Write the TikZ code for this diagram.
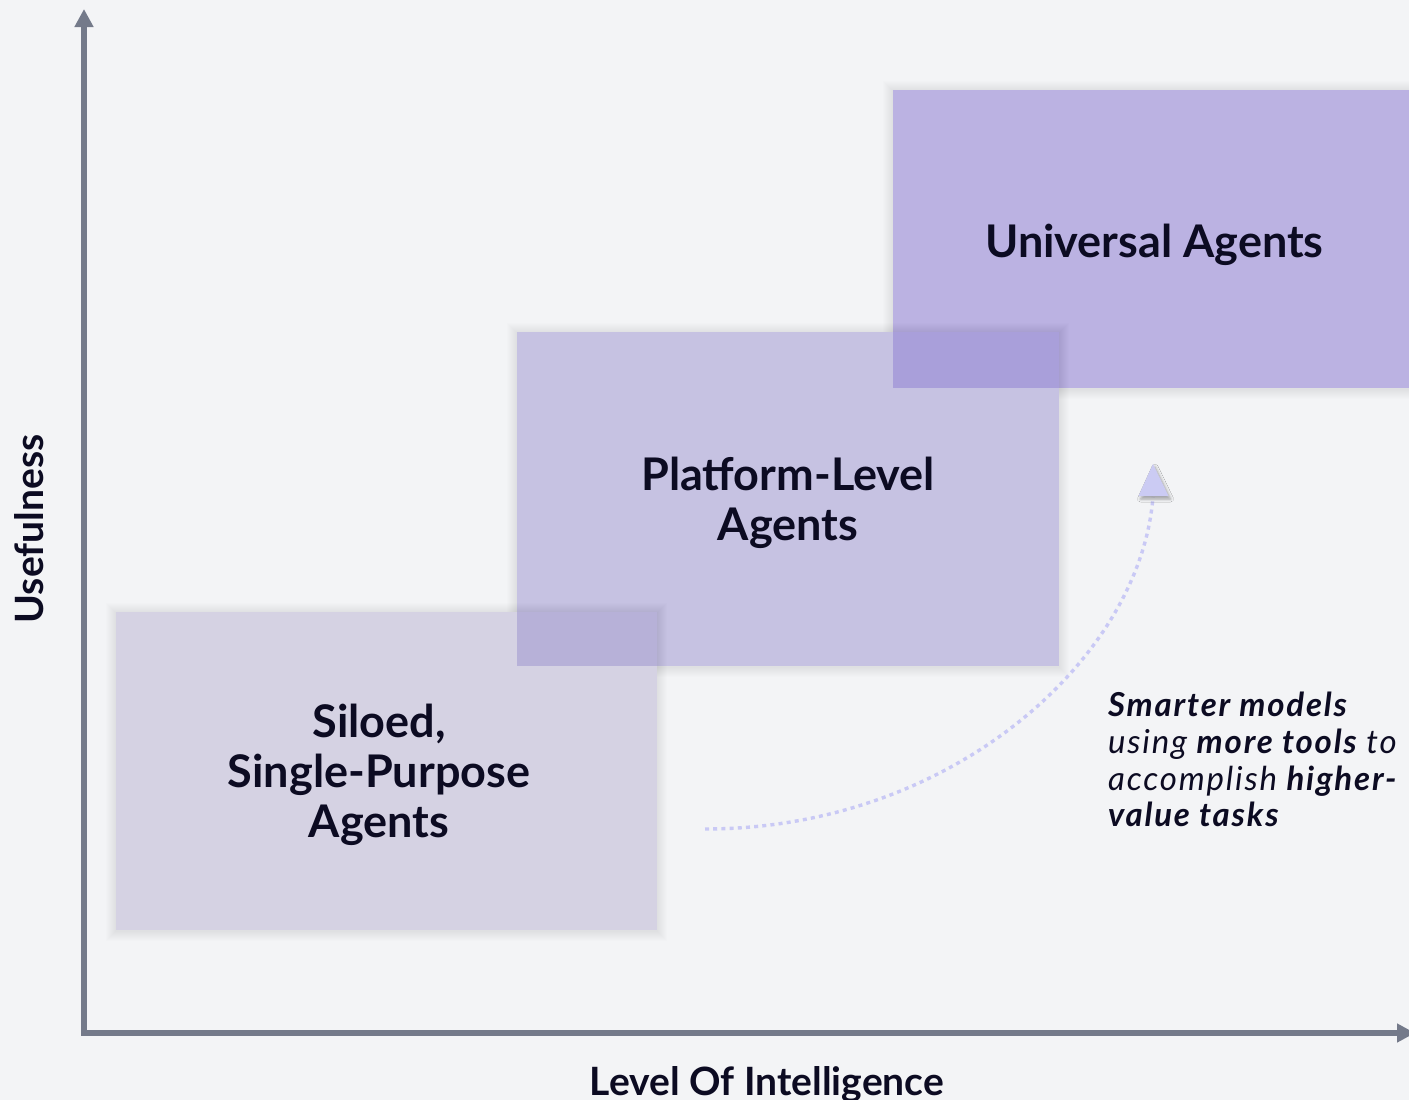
\documentclass[tikz,border=0pt]{standalone}
\usepackage{fontspec}
\setmainfont{Lato}
\usetikzlibrary{arrows.meta,shadows.blur}
\definecolor{bg}{HTML}{F3F4F6}
\definecolor{axisc}{HTML}{747A8A}
\definecolor{ink}{HTML}{0C0B22}
\definecolor{uni}{HTML}{BBB2E2}
\definecolor{plat}{HTML}{C6C2E2}
\definecolor{silo}{HTML}{D5D2E3}
\definecolor{upov}{HTML}{A99FDA}
\definecolor{psov}{HTML}{B7B1D8}
\definecolor{dotc}{HTML}{C9C9F5}
\definecolor{headc}{HTML}{CBCBF3}
\newcommand{\halo}[1]{%
  \foreach \r in {1,...,10}{%
    \fill[black, opacity=0.009] ([shift={(-\r,-\r+1)}]#1.north west) rectangle ([shift={(\r,\r+1)}]#1.south east);
  }%
}
\begin{document}
\begin{tikzpicture}[x=1pt,y=-1pt,
  box/.style={rectangle, draw=none, inner sep=0pt, outer sep=0pt},
  ovl/.style={rectangle, draw=none, inner sep=0pt, outer sep=0pt},
  boxtext/.style={text=ink, align=center, inner sep=0pt, font=\bfseries\fontsize{45}{50}\selectfont},
  axlabel/.style={text=ink, inner sep=0pt, font=\bfseries\fontsize{39}{45}\selectfont},
  axisline/.style={draw=axisc, line width=6pt, line join=miter,
    {Triangle[length=18pt,width=18pt]}-{Triangle[length=18pt,width=18pt]}},
  curvepath/.style={draw=dotc, line width=3.4pt, dash pattern=on 4pt off 4.2pt},
  headtri/.style={fill=headc, blur shadow={shadow xshift=2pt, shadow yshift=-3pt, shadow blur radius=3pt, shadow opacity=35}}
]
\useasboundingbox (0,0) rectangle (1409,1100);
\fill[bg] (0,0) rectangle (1409,1100);

% axes
\coordinate (ytop) at (84,9);
\coordinate (origin) at (84,1033);
\coordinate (xend) at (1415,1033);
\draw[axisline] (ytop) -- (origin) -- (xend);

% boxes (each with a soft halo beneath)
\path node[box, minimum width=522pt, minimum height=298pt] (universal) at (1154,239) {};
\halo{universal}
\fill[uni] (universal.north west) rectangle (universal.south east);

\path node[box, minimum width=542pt, minimum height=334pt] (platform) at (788,499) {};
\halo{platform}
\fill[plat] (platform.north west) rectangle (platform.south east);
\node[ovl, fill=upov, minimum width=166pt, minimum height=56pt] (upover) at (976,360) {};

\path node[box, minimum width=541pt, minimum height=318pt] (siloed) at (386.5,771) {};
\halo{siloed}
\fill[silo] (siloed.north west) rectangle (siloed.south east);
\node[ovl, fill=psov, minimum width=140pt, minimum height=54pt] (psover) at (587,639) {};

% box texts
\node[boxtext, anchor=base] (unitext) at (1154.5,257) {Universal Agents};
\node[boxtext, anchor=base] (plattext) at (788,540) {Platform-Level\\Agents};
\node[boxtext, anchor=base] (silotext) at (379,837) {Siloed,\\Single-Purpose\\Agents};

% axis labels
\node[axlabel, rotate=90, anchor=base] (ylabel) at (43,529) {Usefulness};
\node[axlabel, anchor=base] (xlabel) at (767,1095) {Level Of Intelligence};

% curve with arrowhead
\coordinate (cstart) at (705,829);
\coordinate (apex) at (1153,464);
\coordinate (cend) at (1153,497);
\draw[curvepath] (cstart) .. controls (950,829) and (1140,660) .. (cend);
\path[headtri] (apex) -- ++(15.5,32) -- ++(-30,0) -- cycle;

% note
\node[anchor=base west, align=left, text=ink, inner sep=0pt,
  font=\addfontfeatures{LetterSpace=5.5}\fontsize{33}{36.7}\selectfont] (note) at (1108,826.7)
  {\textbf{\textit{Smarter models}}\\\textit{using \textbf{more tools} to}\\\textit{accomplish \textbf{higher-}}\\\textbf{\textit{value tasks}}};
\end{tikzpicture}
\end{document}
